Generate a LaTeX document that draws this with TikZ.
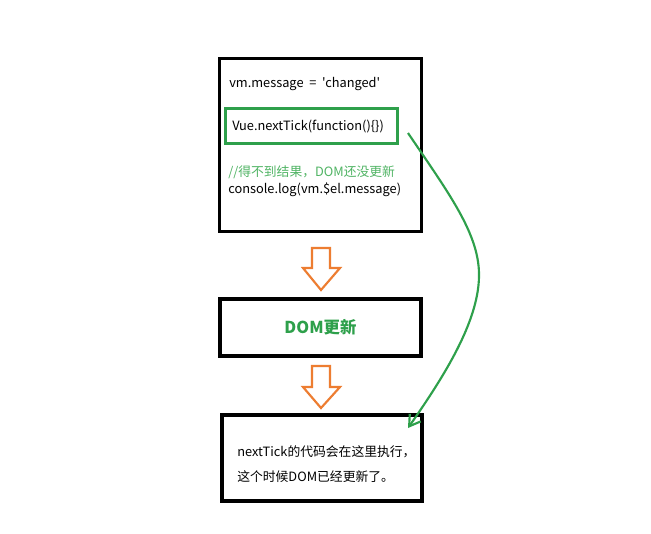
\documentclass[tikz,border=0pt]{standalone}
\usepackage{fontspec}
\setmainfont{Noto Sans CJK SC}[Ligatures=TeXOff]
\usetikzlibrary{arrows.meta}
\definecolor{gbox}{RGB}{46,160,75}
\definecolor{gtext}{RGB}{80,180,100}
\definecolor{org}{RGB}{237,125,49}
\tikzset{
  blackbox/.style={draw=black,line width=2.4pt},
  txt/.style={anchor=west,inner sep=0pt,font=\fontsize{9.6pt}{11pt}\selectfont},
  hollow/.style={draw=org,line width=1.6pt,line join=miter,fill=white},
}
\begin{document}
\begin{tikzpicture}[x=0.75pt,y=-0.75pt]
\useasboundingbox[fill=white] (0,0) rectangle (651,533);
% boxes
\node[blackbox,minimum width=202*0.75pt,minimum height=173*0.75pt,inner sep=0pt] (b1) at (320.5,145) {};
\node[draw=gbox,line width=2pt,minimum width=172*0.75pt,minimum height=35*0.75pt,inner sep=0pt] (g1) at (311.5,126) {};
\node[blackbox,minimum width=201*0.75pt,minimum height=57*0.75pt,inner sep=0pt] (b2) at (320.5,327.5) {};
\node[blackbox,minimum width=200*0.75pt,minimum height=86*0.75pt,inner sep=0pt] (b3) at (322,458) {};
% texts
\node[txt] (t1) at (229,84) {vm.message\ \ =\ \ 'changed'};
\node[txt] (t2) at (232,127) {Vue.nextTick(function()\{\})};
\node[txt,text=gtext] (t3) at (228,172) {//得不到结果，DOM还没更新};
\node[txt] (t4) at (228,190) {console.log(vm.\$el.message)};
\node[inner sep=0pt,text=gbox,font=\fontsize{12.3pt}{14pt}\selectfont\bfseries] (t5) at (b2) {DOM更新};
\node[txt] (t6) at (237,452) {nextTick的代码会在这里执行，};
\node[txt] (t7) at (237,477) {这个时候DOM已经更新了。};
% hollow arrows
\draw[hollow] (312,248) -- (330,248) -- (330,268) -- (340,268) -- (321,290) -- (303,268) -- (312,268) -- cycle;
\draw[hollow] (312,366) -- (330,366) -- (330,387) -- (340,387) -- (321,408) -- (303,387) -- (312,387) -- cycle;
% green curve
\coordinate (cs) at (408,133);
\coordinate (cm) at (479,277);
\coordinate (ce) at (408,428);
\draw[gbox,line width=1.6pt,-{Straight Barb[length=8pt,width=10pt,line width=1.6pt]}]
  (cs) .. controls (450,195) and (480,235) .. (cm)
       .. controls (478,322) and (445,375) .. (ce);
\end{tikzpicture}
\end{document}
